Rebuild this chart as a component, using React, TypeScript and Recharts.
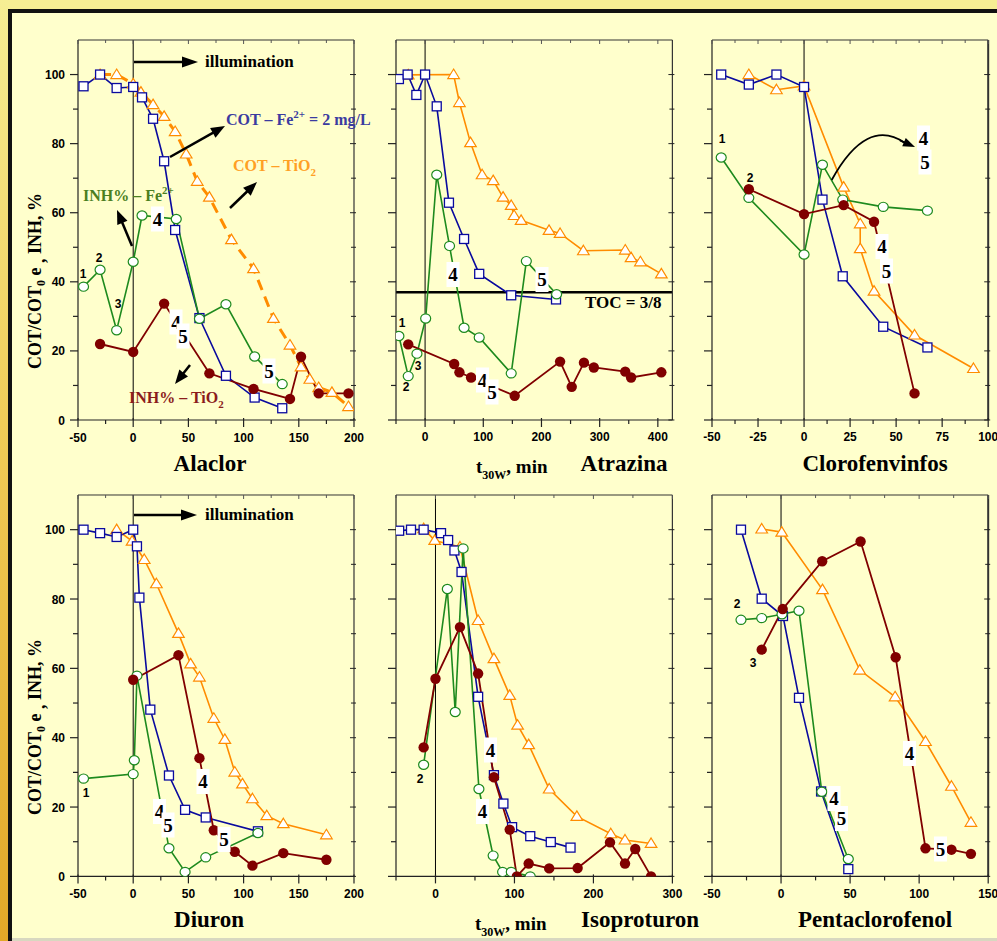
import React from 'react';
import { LineChart, Line, XAxis, YAxis, ReferenceLine } from 'recharts';

type P = [number, number];

// ---------- Data (x = t30W min, y = %) ----------
// Alaclor
const alaclorCotFe: P[] = [[-45, 96.6], [-30, 100], [-15, 96.1], [0, 96.4], [8, 93.4], [18, 87.2], [28, 74.9], [38, 55], [60, 29.5], [84, 12.8], [110, 6.5], [135, 3.4]];
const alaclorCotTi: P[] = [[-30, 100], [-15, 100], [0, 97.3], [7, 94.9], [18, 91.3], [28, 87.9], [38, 83.5], [48, 77], [58, 69.1], [69, 64.5], [89, 52.2], [109, 43.8], [127, 29.4], [142, 21.7], [152, 15.4], [160, 11.8], [168, 9.4], [180, 8], [195, 3.9]];
const alaclorInhFe: P[] = [[-45, 38.6], [-30, 43.5], [-15, 26], [0, 45.8], [8, 59.2], [39, 58.2], [60, 29.3], [84, 33.5], [110, 18.4], [135, 10.4]];
const alaclorInhTi: P[] = [[-30, 22], [0, 19.7], [28, 33.7], [69, 13.5], [109, 9], [142, 6.1], [152, 18.3], [168, 7.7], [195, 7.7]];
// Atrazina
const atrazinaCotFe: P[] = [[-45, 98.7], [-30, 100], [-15, 94.1], [0, 100], [20, 90.8], [41, 62.9], [67, 52.4], [93, 42.3], [148, 36.1], [225, 34.9]];
const atrazinaCotTi: P[] = [[-29, 99.9], [49, 100], [59, 91.9], [78, 80.3], [98, 71], [117, 69.3], [134, 64.5], [148, 62.1], [153, 59.2], [165, 57.8], [213, 54.9], [232, 54], [272, 49], [344, 49.2], [354, 47], [370, 45.8], [406, 42.3]];
const atrazinaInhFe: P[] = [[-45, 24.3], [-29, 12.7], [-14, 19.2], [1, 29.4], [20, 71], [42, 50.4], [67, 26.7], [93, 23.9], [148, 13.5], [174, 46], [226, 36.4]];
const atrazinaInhTi: P[] = [[-29, 21.9], [50, 16.2], [59, 13.8], [79, 12.3], [154, 7], [232, 16.9], [252, 9.6], [273, 16.6], [290, 15.2], [344, 14], [354, 12.3], [406, 13.8]];
const atrazinaToc = 37;
// Clorofenvinfos
const cloroCotFe: P[] = [[-45, 100], [-30, 97.1], [-15, 100], [0, 96.4], [10, 63.8], [21, 41.6], [43, 27], [67, 21]];
const cloroCotTi: P[] = [[-30, 100], [-15, 95.6], [0, 96.7], [21.5, 67.4], [30.5, 56.8], [30.5, 49.6], [38, 37.3], [60, 24.6], [92, 14.9]];
const cloroInhFe: P[] = [[-45, 76], [-30, 64.3], [0, 47.9], [10, 73.9], [21, 63.8], [43, 61.7], [67, 60.6]];
const cloroInhTi: P[] = [[-30, 66.8], [0, 59.6], [21.5, 62.2], [38, 57.4], [60, 7.7]];
// Diuron
const diuronCotFe: P[] = [[-45, 100], [-30, 99], [-15, 97.9], [0, 100], [3.4, 95.2], [5.6, 80.4], [15.5, 48.1], [32.4, 29.1], [47, 19.2], [65.7, 17], [113, 13]];
const diuronCotTi: P[] = [[-15, 100], [-1, 96.7], [10, 91.4], [21, 84.4], [41, 70.1], [52, 61.3], [60, 57.5], [73, 45.6], [83, 39.5], [92, 30.1], [99, 26.7], [108, 22.4], [121, 17.5], [136, 15.2], [175, 12]];
const diuronInhFe: P[] = [[-45, 28.2], [0, 29.5], [1, 33.5], [3.4, 57.9], [32.4, 8.1], [47, 1.3], [65.7, 5.5], [113, 12.5]];
const diuronInhTi: P[] = [[0, 56.7], [41, 63.8], [60, 34.1], [73, 13.3], [92, 7.1], [108, 3.1], [136, 6.7], [175, 4.8]];
// Isoproturon
const isoCotFe: P[] = [[-46, 99.7], [-31, 100], [-15, 100], [7, 99], [16, 97], [24, 94], [33, 87.8], [54, 51.8], [74, 29.2], [86, 21], [97, 14.2], [120, 11.6], [146, 9.9], [171, 8.3]];
const isoCotTi: P[] = [[-15, 100.3], [-1, 96.9], [31, 95], [54, 73.8], [74, 62.8], [94, 52.2], [104, 43.6], [118, 38], [144, 25.2], [179, 17.3], [222, 12.3], [240, 10.5], [273, 9.5]];
const isoInhFe: P[] = [[-15, 32.2], [15, 82.9], [25, 47.4], [35, 94.6], [55, 25.2], [73, 6], [85, 1.3], [96, 1.3], [120, 0]];
const isoInhTi: P[] = [[-15, 37.2], [0, 57], [31, 71.9], [54, 58.5], [74, 28.6], [94, 13.5], [103, 0], [118, 3.7], [144, 2.3], [180, 2.4], [221, 9.8], [240, 3.7], [253, 7.9], [273, 0]];
// Pentaclorofenol
const pcpCotFe: P[] = [[-29, 100], [-14, 80.1], [1.4, 75.1], [13, 51.5], [29, 24.5], [48.7, 2.1]];
const pcpCotTi: P[] = [[-14, 100.2], [0.5, 99.3], [30, 82.7], [57, 59.5], [82.6, 51.8], [104.6, 38.9], [123.4, 26], [137.5, 15.6]];
const pcpInhFe: P[] = [[-29, 74], [-14, 74.5], [0.7, 75.6], [13, 76.6], [29.5, 24.4], [48.7, 5]];
const pcpInhTi: P[] = [[-14, 65.4], [1.2, 77.1], [29.8, 90.9], [57.6, 96.6], [83, 63.2], [104.6, 8.1], [123.4, 7.7], [137.5, 6.5]];

// ticks
const yTicks = [0, 10, 20, 30, 40, 50, 60, 70, 80, 90, 100];
const ticks50by25 = [-50, -25, 0, 25, 50, 75, 100, 125, 150, 175, 200];
const ticksAtrazina = [-50, 0, 50, 100, 150, 200, 250, 300, 350, 400];
const ticksCloro = [-50, -37.5, -25, -12.5, 0, 12.5, 25, 37.5, 50, 62.5, 75, 87.5, 100];
const ticksIso = [-50, 0, 50, 100, 150, 200, 250, 300];
const ticksPcp = [-50, -25, 0, 25, 50, 75, 100, 125, 150];

// ---------- Styles ----------
const BLUE = '#0A0A9E';
const ORANGE = '#FF8C00';
const GREEN = '#1E8A1E';
const RED = '#800000';
const BG = '#FFFFCC';
const SANS = '"Liberation Sans", Arial, Helvetica, sans-serif';
const SERIF = '"Liberation Serif", "Times New Roman", Times, serif';

const toPts = (a: P[]) => a.map(([x, y]) => ({ x, y }));

const COLS = [{ l: 78.3, r: 354.3 }, { l: 395.6, r: 672 }, { l: 712.3, r: 988.5 }];
const ROWS = [{ t: 40, b: 420 }, { t: 495.3, b: 876.7 }];

const squareDot = (p: any) =>
  p.cx == null ? null : <rect key={'s' + p.index} x={p.cx - 4.5} y={p.cy - 4.5} width={9} height={9} fill="#fff" stroke={BLUE} strokeWidth={1.3} />;
const triDot = (p: any) =>
  p.cx == null ? null : <polygon key={'t' + p.index} points={`${p.cx},${p.cy - 5.5} ${p.cx + 5.8},${p.cy + 4} ${p.cx - 5.8},${p.cy + 4}`} fill="#fff" stroke={ORANGE} strokeWidth={1.2} />;
const circDot = (p: any) =>
  p.cx == null ? null : <ellipse key={'c' + p.index} cx={p.cx} cy={p.cy} rx={5} ry={4.6} fill="#fff" stroke={GREEN} strokeWidth={1.2} />;
const fillDot = (p: any) =>
  p.cx == null ? null : <circle key={'f' + p.index} cx={p.cx} cy={p.cy} r={5.2} fill={RED} />;

type Orient = 'bottom' | 'top' | 'left' | 'right';
const mkTick = (orient: Orient, isMajor: (v: number) => boolean, isLabel: (v: number) => boolean) => (props: any) => {
  const { x, y, payload } = props;
  const v = payload.value;
  const major = isMajor(v);
  const k = 't' + orient + v;
  if (orient === 'bottom') {
    const len = major ? 7 : 4;
    return (
      <g key={k}>
        <line x1={x} y1={y - (major ? 2 : 0)} x2={x} y2={y + len} stroke="#222" strokeWidth={1.2} />
        {isLabel(v) && <text x={x} y={y + 21.5} textAnchor="middle" fontFamily={SANS} fontWeight="bold" fontSize={12} fill="#000">{v}</text>}
      </g>
    );
  }
  if (orient === 'top') {
    const len = major ? 4 : 3;
    return <line key={k} x1={x} y1={y} x2={x} y2={y + len} stroke="#555" strokeWidth={1} />;
  }
  if (orient === 'left') {
    const len = major ? 8 : 5;
    return (
      <g key={k}>
        <line x1={x - len} y1={y} x2={x} y2={y} stroke="#222" strokeWidth={1.2} />
        {isLabel(v) && <text x={x - 13} y={y + 4.5} textAnchor="end" fontFamily={SANS} fontWeight="bold" fontSize={12} fill="#000">{v}</text>}
      </g>
    );
  }
  const len = major ? 4 : 3;
  return <line key={k} x1={x - len} y1={y} x2={x + 2} y2={y} stroke="#222" strokeWidth={1} />;
};

interface PanelProps {
  col: number; row: number; xDomain: [number, number]; xTicks: number[];
  xMajor: (v: number) => boolean; xLabel: (v: number) => boolean;
  yLabels: boolean; fe: P[]; ti: P[]; inhFe: P[]; inhTi: P[]; dashedTi?: boolean; toc?: number;
}

function Panel(pp: PanelProps) {
  const c = COLS[pp.col], r = ROWS[pp.row];
  const LW = 45, RW = 15, TH = 15, BH = 30;
  const width = c.r - c.l + LW + RW;
  const height = r.b - r.t + TH + BH;
  const yMajor = (v: number) => v % 20 === 0;
  return (
    <div style={{ position: 'absolute', left: c.l - LW, top: r.t - TH }}>
      <LineChart width={width} height={height} margin={{ top: 0, right: 0, bottom: 0, left: 0 }}>
        <XAxis xAxisId="b" type="number" dataKey="x" domain={pp.xDomain} ticks={pp.xTicks} interval={0} allowDataOverflow
          orientation="bottom" height={BH} tickSize={0} tickMargin={0} tickLine={false} axisLine={{ stroke: '#222', strokeWidth: 1.2 }}
          tick={mkTick('bottom', pp.xMajor, pp.xLabel)} />
        <XAxis xAxisId="t" type="number" dataKey="x" domain={pp.xDomain} ticks={pp.xTicks} interval={0} allowDataOverflow
          orientation="top" height={TH} tickSize={0} tickMargin={0} tickLine={false} axisLine={{ stroke: '#333', strokeWidth: 1 }}
          tick={mkTick('top', pp.xMajor, () => false)} />
        <YAxis yAxisId="l" type="number" domain={[0, 110]} ticks={yTicks} interval={0} allowDataOverflow
          orientation="left" width={LW} tickSize={0} tickMargin={0} tickLine={false} axisLine={{ stroke: '#222', strokeWidth: 1.2 }}
          tick={mkTick('left', yMajor, (v) => pp.yLabels && yMajor(v))} />
        <YAxis yAxisId="r" type="number" domain={[0, 110]} ticks={yTicks} interval={0} allowDataOverflow
          orientation="right" width={RW} tickSize={0} tickMargin={0} tickLine={false} axisLine={{ stroke: '#333', strokeWidth: pp.col === 2 ? 2 : 1.2 }}
          tick={mkTick('right', yMajor, () => false)} />
        <ReferenceLine xAxisId="b" yAxisId="l" x={0} stroke="#000" strokeWidth={1} />
        {pp.toc != null && <ReferenceLine xAxisId="b" yAxisId="l" y={pp.toc} stroke="#000" strokeWidth={2.5} />}
        <Line xAxisId="b" yAxisId="l" data={toPts(pp.ti)} dataKey="y" type="linear" stroke={ORANGE}
          strokeWidth={pp.dashedTi ? 3 : 1.6} strokeDasharray={pp.dashedTi ? '11 7' : undefined}
          dot={triDot} activeDot={false} isAnimationActive={false} />
        <Line xAxisId="b" yAxisId="l" data={toPts(pp.fe)} dataKey="y" type="linear" stroke={BLUE} strokeWidth={1.6}
          dot={squareDot} activeDot={false} isAnimationActive={false} />
        <Line xAxisId="b" yAxisId="l" data={toPts(pp.inhFe)} dataKey="y" type="linear" stroke={GREEN} strokeWidth={1.6}
          dot={circDot} activeDot={false} isAnimationActive={false} />
        <Line xAxisId="b" yAxisId="l" data={toPts(pp.inhTi)} dataKey="y" type="linear" stroke={RED} strokeWidth={1.8}
          dot={fillDot} activeDot={false} isAnimationActive={false} />
      </LineChart>
    </div>
  );
}

function Arrow({ x1, y1, x2, y2, w = 2.5, hl = 14, hw = 11, color = '#000' }: any) {
  const dx = x2 - x1, dy = y2 - y1, L = Math.hypot(dx, dy), ux = dx / L, uy = dy / L;
  const bx = x2 - ux * hl, by = y2 - uy * hl, px = -uy, py = ux;
  return (
    <g>
      <line x1={x1} y1={y1} x2={bx + ux} y2={by + uy} stroke={color} strokeWidth={w} />
      <polygon points={`${x2},${y2} ${bx + px * hw / 2},${by + py * hw / 2} ${bx - px * hw / 2},${by - py * hw / 2}`} fill={color} />
    </g>
  );
}

const Box = ({ cx, cy, t }: any) => (
  <g>
    <rect x={cx - 6.5} y={cy - 12.5} width={13} height={25} fill="#fff" />
    <text x={cx} y={cy + 6.5} textAnchor="middle" fontFamily={SERIF} fontWeight="bold" fontSize={19} fill="#000">{t}</text>
  </g>
);
const Num = ({ x, y, t }: any) => (
  <text x={x} y={y + 4.5} textAnchor="middle" fontFamily={SANS} fontWeight="bold" fontSize={12} fill="#000">{t}</text>
);

const YTitle = ({ cy }: any) => (
  <text x={41} y={cy} transform={`rotate(-90 41 ${cy})`} textAnchor="middle" fontFamily={SERIF} fontWeight="bold" fontSize={18} fill="#000">
    COT/COT<tspan dy={4} fontSize={12}>0</tspan><tspan dy={-4}> e </tspan><tspan dy={4}>,</tspan><tspan dy={-4}> INH, %</tspan>
  </text>
);
const TTitle = ({ x, y }: any) => (
  <text x={x} y={y} fontFamily={SERIF} fontWeight="bold" fontSize={19} fill="#000">
    t<tspan dy={6} fontSize={12}>30W</tspan><tspan dy={-6}>, min</tspan>
  </text>
);
const Title = ({ x, y, t }: any) => (
  <text x={x} y={y} textAnchor="middle" fontFamily={SERIF} fontWeight="bold" fontSize={23} fill="#000">{t}</text>
);

function Overlay() {
  const f = { fontFamily: SERIF, fontWeight: 'bold' as const, fontSize: 16 };
  return (
    <svg width={997} height={941} style={{ position: 'absolute', left: 0, top: 0, pointerEvents: 'none' }}>
      {/* Alaclor */}
      <Arrow x1={134} y1={62} x2={198} y2={62} hl={16} hw={11} />
      <text x={205} y={67} {...f} fontSize={17} fill="#000">illumination</text>
      <Arrow x1={170} y1={157} x2={225} y2={126} />
      <text x={226} y={125} {...f} fill="#3B3BA0">COT – Fe<tspan dy={-7} fontSize={11}>2+</tspan><tspan dy={7}> = 2 mg/L</tspan></text>
      <Arrow x1={230} y1={208} x2={257} y2={182} />
      <text x={233} y={171} {...f} fill="#FFA024">COT – TiO<tspan dy={5} fontSize={11}>2</tspan></text>
      <Arrow x1={132} y1={246} x2={117} y2={210} />
      <text x={83} y={201} {...f} fill="#4B7F1F">INH% – Fe<tspan dy={-7} fontSize={11}>2+</tspan></text>
      <Arrow x1={190} y1={365} x2={175} y2={384} />
      <text x={129} y={403} {...f} fill="#8B1C1C">INH% – TiO<tspan dy={5} fontSize={11}>2</tspan></text>
      <Num x={83} y={273} t="1" /><Num x={99} y={257} t="2" /><Num x={118} y={303} t="3" />
      <Box cx={157.5} cy={219} t="4" />
      <Box cx={176} cy={322} t="4" /><Box cx={183} cy={336} t="5" />
      <Box cx={269} cy={371} t="5" />
      {/* Atrazina */}
      <Num x={402} y={322} t="1" /><Num x={406} y={386} t="2" /><Num x={418} y={365} t="3" />
      <Box cx={453} cy={274.5} t="4" /><Box cx={542} cy={279.5} t="5" />
      <Box cx={482.5} cy={380} t="4" /><Box cx={492} cy={392} t="5" />
      <text x={585} y={308} {...f} fontSize={17} fill="#000">TOC = 3/8</text>
      {/* Clorofenvinfos */}
      <Num x={722} y={138} t="1" /><Num x={750} y={177} t="2" />
      <path d="M831.7,180 Q866.6,116.5 905,143" stroke="#000" strokeWidth={1.8} fill="none" />
      <Arrow x1={900} y1={140.5} x2={915} y2={147} w={1.8} hl={12} hw={9} />
      <Box cx={923.5} cy={138} t="4" /><Box cx={925} cy={162} t="5" />
      <Box cx={882} cy={246.5} t="4" /><Box cx={886.5} cy={271} t="5" />
      {/* Diuron */}
      <Arrow x1={134} y1={515} x2={197} y2={515} hl={16} hw={11} />
      <text x={205} y={520} {...f} fontSize={17} fill="#000">illumination</text>
      <Num x={86} y={792} t="1" />
      <Box cx={203} cy={781.5} t="4" />
      <Box cx={159.5} cy={811.5} t="4" /><Box cx={168} cy={825} t="5" />
      <Box cx={224} cy={839.5} t="5" />
      {/* Isoproturon */}
      <Num x={420} y={778} t="2" />
      <Box cx={490.5} cy={750} t="4" />
      <Box cx={482.5} cy={811.5} t="4" />
      {/* Pentaclorofenol */}
      <Num x={737} y={603} t="2" /><Num x={753} y={662} t="3" />
      <Box cx={909.5} cy={753.5} t="4" />
      <Box cx={834} cy={798.5} t="4" /><Box cx={841.5} cy={818.5} t="5" />
      <Box cx={940.5} cy={849} t="5" />
      {/* titles */}
      <YTitle cy={281} />
      <YTitle cy={727} />
      <Title x={210} y={471} t="Alaclor" />
      <TTitle x={476} y={473} />
      <Title x={624} y={471} t="Atrazina" />
      <Title x={875} y={471} t="Clorofenvinfos" />
      <Title x={209} y={927} t="Diuron" />
      <TTitle x={475} y={930} />
      <Title x={640} y={927} t="Isoproturon" />
      <Title x={875} y={927} t="Pentaclorofenol" />
    </svg>
  );
}

const maj50 = (v: number) => v % 50 === 0;
const maj100 = (v: number) => v % 100 === 0;
const maj25 = (v: number) => v % 25 === 0;

export default function App() {
  return (
    <div style={{ position: 'absolute', left: 0, top: 0, width: 997, height: 941, background: BG, overflow: 'hidden' }}>
      <div style={{ position: 'absolute', left: 0, top: 0, width: 997, height: 9, background: '#F6EE94' }} />
      <div style={{ position: 'absolute', left: 0, top: 0, width: 8, height: 941, background: 'linear-gradient(#F6EE94, #F0CC58 45%, #E2A828)' }} />
      <div style={{ position: 'absolute', left: 8, top: 9, width: 989, height: 4, background: '#111' }} />
      <div style={{ position: 'absolute', left: 8, top: 9, width: 4, height: 932, background: '#111' }} />
      <div style={{ position: 'absolute', left: 12, top: 938, width: 985, height: 3, background: '#D8D8C0' }} />
      <Panel col={0} row={0} xDomain={[-50, 200]} xTicks={ticks50by25} xMajor={maj50} xLabel={maj50} yLabels
        fe={alaclorCotFe} ti={alaclorCotTi} inhFe={alaclorInhFe} inhTi={alaclorInhTi} dashedTi />
      <Panel col={1} row={0} xDomain={[-50, 425]} xTicks={ticksAtrazina} xMajor={maj100} xLabel={(v) => v >= 0 && maj100(v)} yLabels={false}
        fe={atrazinaCotFe} ti={atrazinaCotTi} inhFe={atrazinaInhFe} inhTi={atrazinaInhTi} toc={atrazinaToc} />
      <Panel col={2} row={0} xDomain={[-50, 100]} xTicks={ticksCloro} xMajor={maj25} xLabel={maj25} yLabels={false}
        fe={cloroCotFe} ti={cloroCotTi} inhFe={cloroInhFe} inhTi={cloroInhTi} />
      <Panel col={0} row={1} xDomain={[-50, 200]} xTicks={ticks50by25} xMajor={maj50} xLabel={maj50} yLabels
        fe={diuronCotFe} ti={diuronCotTi} inhFe={diuronInhFe} inhTi={diuronInhTi} />
      <Panel col={1} row={1} xDomain={[-50, 300]} xTicks={ticksIso} xMajor={maj100} xLabel={(v) => v >= 0 && maj100(v)} yLabels={false}
        fe={isoCotFe} ti={isoCotTi} inhFe={isoInhFe} inhTi={isoInhTi} />
      <Panel col={2} row={1} xDomain={[-50, 150]} xTicks={ticksPcp} xMajor={maj50} xLabel={maj50} yLabels={false}
        fe={pcpCotFe} ti={pcpCotTi} inhFe={pcpInhFe} inhTi={pcpInhTi} />
      <Overlay />
    </div>
  );
}
